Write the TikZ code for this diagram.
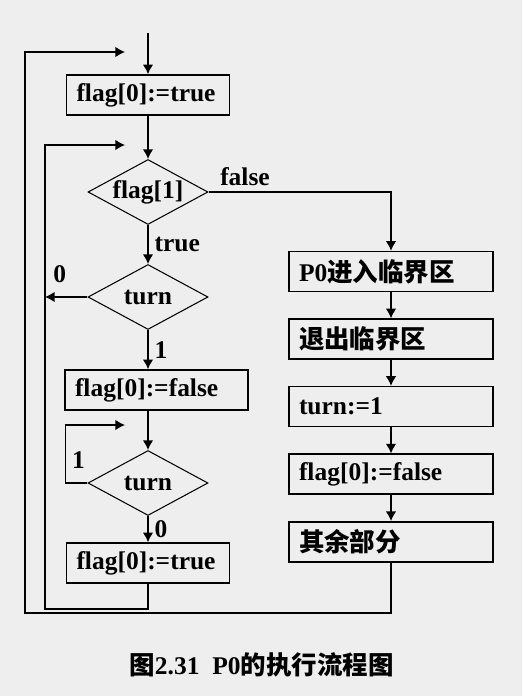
\documentclass[tikz,border=0pt]{standalone}
\usepackage{fontspec}
\setmainfont{Liberation Serif}
\newfontfamily\cjk{Noto Sans CJK SC}
\usepackage{xcolor}
\definecolor{fondo}{RGB}{238, 238, 238}
\usetikzlibrary{shapes.geometric, arrows.meta, positioning, calc}

\begin{document}
\begin{tikzpicture}[node distance=0.52cm,
        caja/.style={rectangle, draw, line width=0.9pt, text width=2.86cm, align=left, inner xsep=0.2cm, minimum height=0.8cm, font=\fontsize{14.5}{17}\selectfont\bfseries},
        cajaancha/.style={caja, text width=3.26cm},
        cajader/.style={caja, text width=3.68cm},
        decision/.style={diamond, draw, semithick, minimum width=2.4cm, minimum height=1.3cm, inner sep=0pt, aspect=1.85, font=\fontsize{14.5}{17}\selectfont\bfseries},
        etiqueta/.style={font=\fontsize{14.5}{17}\selectfont\bfseries},
        line/.style={draw, -{Latex[length=5.5pt, width=6pt]}, thick}]

        % Fondo y marco
        \fill [fondo] (0,0) rectangle (10.44,-13.92);
        \useasboundingbox (0,0) rectangle (10.44,-13.92);

        % Columna izquierda: intento de entrada
        \node [caja] (ini) at (2.96,-1.90) {flag[0]:=true};
        \node [decision] (f1) at (2.96,-3.84) {flag[1]};
        \node [decision] (t1) at (2.96,-5.94) {turn};
        \node [cajaancha] (nf) at (3.13,-7.80) {flag[0]:=false};
        \node [decision] (t2) at (2.96,-9.66) {turn};
        \node [caja] (fin) at (2.96,-11.26) {flag[0]:=true};

        % Columna derecha: seccion critica
        \node [cajader] (r1) at (7.82,-5.43) {P0{\cjk 进入临界区}};
        \node [cajader, below=of r1] (r2) {\cjk 退出临界区};
        \node [cajader, below=of r2] (r3) {turn:=1};
        \node [cajader, below=of r3] (r4) {flag[0]:=false};
        \node [cajader, below=of r4] (r5) {\cjk 其余部分};

        % Puntos libres de los bucles
        \coordinate (entrada) at (2.96,-0.66);
        \coordinate (e1) at (2.50,-1.04);
        \coordinate (e2) at (2.50,-2.90);
        \coordinate (e3) at (2.50,-8.50);
        \coordinate (izq) at (0.90,-12.18);
        \coordinate (ext) at (0.50,-12.26);

        % Flujo principal
        \path [line] (entrada) -- (ini);
        \path [line] (ini) -- (f1);
        \path [line] (f1) -- node [right, etiqueta] {true} (t1);
        \path [line] (t1) -- node [right, etiqueta] {1} (t1.south |- nf.north);
        \path [line] (nf.south -| t2.north) -- (t2);
        \path [line] (t2) -- node [right, etiqueta] {0} (fin);
        \path [line] (f1.east) -| node [pos=0.1, above, etiqueta] {false} (r1);
        \path [line] (r1) -- (r2);
        \path [line] (r2) -- (r3);
        \path [line] (r3) -- (r4);
        \path [line] (r4) -- (r5);

        % Bucles de espera
        \path [line] (t1.west) -- node [pos=0.65, above=0.15cm, etiqueta] {0} (t1.west -| izq);
        \path [line] (t2.west) -- ++(-0.44,0) |- node [pos=0.2, right, etiqueta] {1} (e3);
        \path [line] (fin.south) |- (izq) |- (e2);
        \path [line] (r5.south) |- (ext) |- (e1);

        % Pie de figura
        \node [etiqueta] (titulo) at (5.23,-13.30) {{\cjk 图}2.31\ \ P0{\cjk 的执行流程图}};
    \end{tikzpicture}
\end{document}
